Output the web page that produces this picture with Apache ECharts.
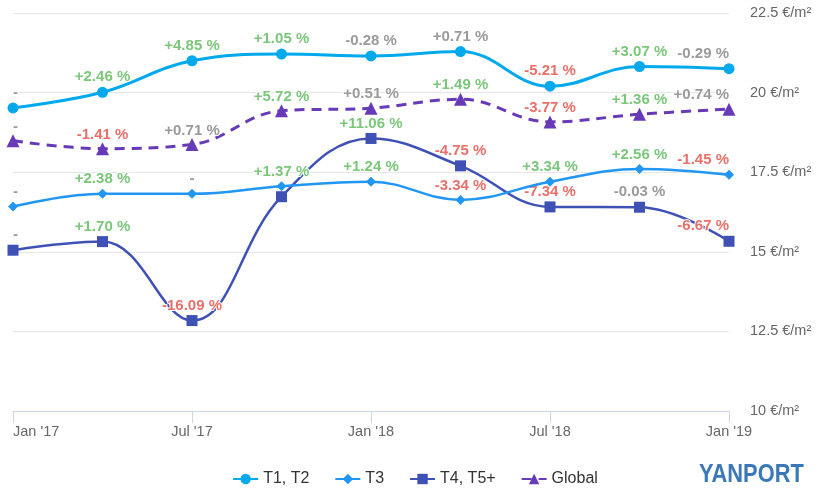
<!DOCTYPE html>
<html>
<head>
<meta charset="utf-8">
<script src="https://cdn.jsdelivr.net/npm/echarts@6/dist/echarts.min.js"></script>
<style>
html,body{margin:0;padding:0;background:#fff;}
#chart{width:830px;height:498px;}
</style>
</head>
<body>
<div id="chart"></div>
<script>
// ---- data ----
var categories = ["Jan '17","Apr '17","Jul '17","Oct '17","Jan '18","Apr '18","Jul '18","Oct '18","Jan '19"];
var t12Values = [19.52, 20.01, 21.0, 21.21, 21.15, 21.29, 20.2, 20.82, 20.75];
var t3Values = [16.42, 16.82, 16.82, 17.06, 17.2, 16.63, 17.2, 17.6, 17.42];
var t45Values = [15.05, 15.32, 12.84, 16.73, 18.56, 17.7, 16.41, 16.4, 15.33];
var globalValues = [18.49, 18.24, 18.37, 19.43, 19.51, 19.79, 19.08, 19.32, 19.48];

var t12Labels = ["-", "+2.46 %", "+4.85 %", "+1.05 %", "-0.28 %", "+0.71 %", "-5.21 %", "+3.07 %", "-0.29 %"];
var t3Labels = ["-", "+2.38 %", "-", "+1.37 %", "+1.24 %", "-3.34 %", "+3.34 %", "+2.56 %", "-1.45 %"];
// Oct '17 label is hidden in the reference (overlap)
var t45Labels = ["-", "+1.70 %", "-16.09 %", null, "+11.06 %", "-4.75 %", "-7.34 %", "-0.03 %", "-6.67 %"];
var globalLabels = ["-", "-1.41 %", "+0.71 %", "+5.72 %", "+0.51 %", "+1.49 %", "-3.77 %", "+1.36 %", "+0.74 %"];

var yTickMin = 10, yTickMax = 22.5, yTickStep = 2.5;
var yUnit = " €/m²";

// ---- styles ----
var GREEN = "#7cc67c", RED = "#e8706a", GRAY = "#9a9a9a";
var FONT = "Liberation Sans, Arial, sans-serif";

function labelColor(txt) {
  var v = parseFloat(txt);
  if (isNaN(v) || Math.abs(v) < 1) return GRAY;
  return v > 0 ? GREEN : RED;
}

function buildData(values, labels) {
  var last = values.length - 1;
  return values.map(function (v, i) {
    var txt = labels[i];
    var item = { value: v };
    if (txt === null || txt === undefined) {
      item.label = { show: false };
    } else {
      item.label = {
        show: true,
        formatter: txt,
        color: labelColor(txt),
        align: i === 0 ? "left" : (i === last ? "right" : "center")
      };
    }
    return item;
  });
}

var baseLabel = {
  show: true,
  position: "top",
  distance: 2,
  fontFamily: FONT,
  fontSize: 15,
  fontWeight: "bold",
  textBorderColor: "#fff",
  textBorderWidth: 2
};

function series(name, values, labels, color, symbol, size, lineStyle, z, labelDist) {
  return {
    name: name,
    type: "line",
    smooth: 0.4,
    data: buildData(values, labels),
    symbol: symbol,
    symbolSize: size,
    showAllSymbol: true,
    itemStyle: { color: color },
    lineStyle: Object.assign({ color: color }, lineStyle),
    label: Object.assign({}, baseLabel, { distance: labelDist }),
    z: z,
    emphasis: { disabled: true }
  };
}

var chart = echarts.init(document.getElementById("chart"), null, { renderer: "canvas" });
chart.setOption({
  animation: false,
  textStyle: { fontFamily: FONT },
  grid: { left: 13, right: 101, top: 13, bottom: 87, containLabel: false },
  xAxis: {
    type: "category",
    data: categories,
    boundaryGap: false,
    axisLine: { show: true, lineStyle: { color: "#ccd6eb", width: 1 } },
    axisTick: { show: true, interval: 1, length: 12, lineStyle: { color: "#ccd6eb" } },
    axisLabel: { interval: 1, color: "#666", fontSize: 14.5, margin: 13, fontFamily: FONT, alignMinLabel: "left" },
    splitLine: { show: false }
  },
  yAxis: {
    type: "value",
    position: "right",
    min: yTickMin,
    max: yTickMax,
    interval: yTickStep,
    axisLine: { show: false },
    axisTick: { show: false },
    axisLabel: {
      color: "#666", fontSize: 14.5, margin: 21, fontFamily: FONT,
      formatter: function (v) { return v + yUnit; }
    },
    splitLine: { lineStyle: { color: "#e6e6e6", width: 1 } }
  },
  legend: {
    top: 466,
    left: "center",
    itemGap: 25,
    itemWidth: 25,
    itemHeight: 13,
    textStyle: { color: "#333", fontSize: 16, fontFamily: FONT },
    data: ["T1, T2", "T3", "T4, T5+", "Global"]
  },
  graphic: [{
    type: "text",
    left: 699,
    top: 462,
    scaleX: 0.84,
    style: { text: "YANPORT", fill: "#3a78b8", font: "bold 26px " + FONT }
  }],
  series: [
    series("T1, T2", t12Values, t12Labels, "#00a9ec", "circle", 11, { width: 3 }, 4, 2),
    series("T3", t3Values, t3Labels, "#2196f3", "diamond", 10, { width: 2.5 }, 3, 2),
    series("T4, T5+", t45Values, t45Labels, "#3f51b5", "rect", 11, { width: 2.5 }, 2, 2),
    series("Global", globalValues, globalLabels, "#673ab7", "triangle", 13, { width: 3, type: [10, 7] }, 5, 0)
  ]
});
</script>
</body>
</html>
